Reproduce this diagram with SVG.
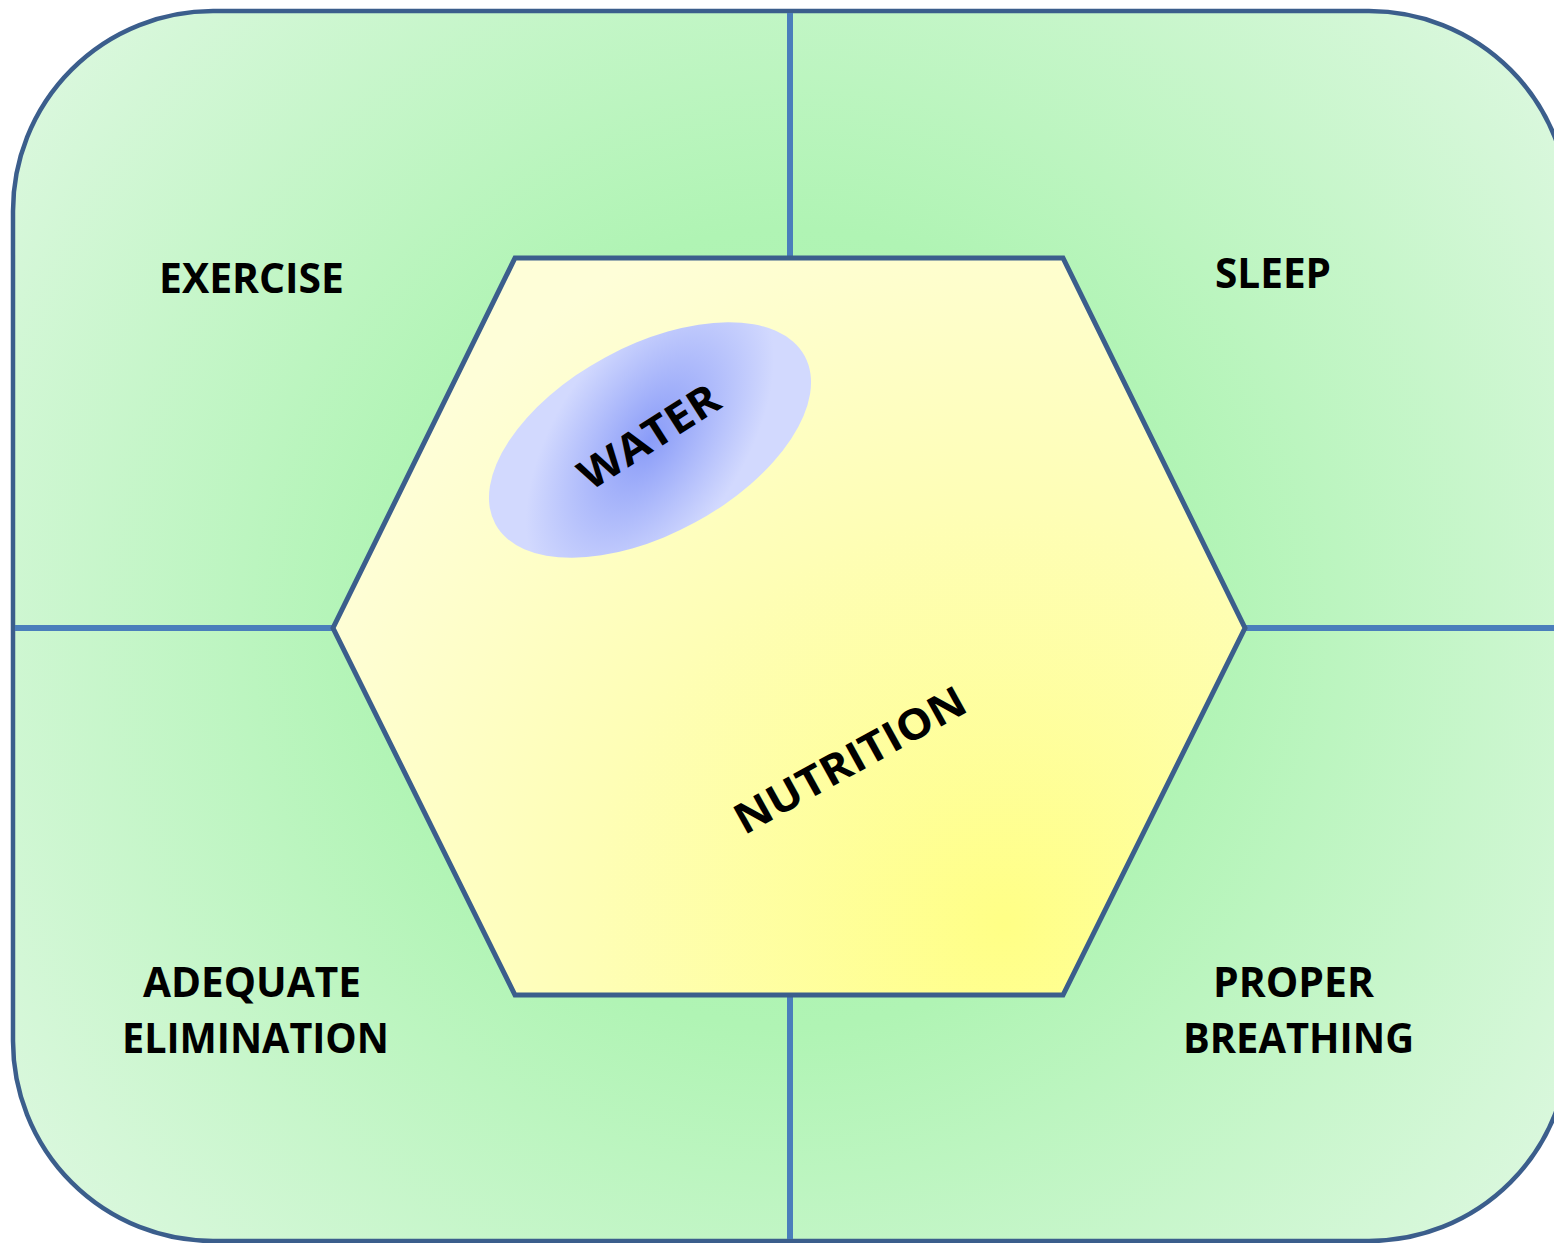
<svg xmlns="http://www.w3.org/2000/svg" width="1554" height="1243" viewBox="0 0 1554 1243">
  <defs>
    <radialGradient id="gGreen" gradientUnits="userSpaceOnUse" cx="790" cy="628" r="1000">
      <stop offset="0" stop-color="#a8f2ad"/>
      <stop offset="0.4" stop-color="#b0f4b4"/>
      <stop offset="1" stop-color="#e0f8e3"/>
    </radialGradient>
    <radialGradient id="gYellow" gradientUnits="userSpaceOnUse" cx="1005" cy="925" r="760">
      <stop offset="0" stop-color="#ffff86"/>
      <stop offset="0.55" stop-color="#fefeb6"/>
      <stop offset="1" stop-color="#fefed8"/>
    </radialGradient>
    <radialGradient id="gBlue" gradientUnits="userSpaceOnUse" cx="0" cy="0" r="1" gradientTransform="translate(650 440) rotate(-28.5) scale(176 94)">
      <stop offset="0" stop-color="#8a9cf8"/>
      <stop offset="1" stop-color="#d2d9fe"/>
    </radialGradient>
    <style>
      .lbl { font-family: "Open Sans", "Lato", "Liberation Sans", sans-serif; font-weight: bold; font-size: 42px; fill: #000; text-anchor: middle; }
      .div { stroke: #4a7ebb; stroke-width: 6; fill: none; }
    </style>
  </defs>

  <g id="background">
    <rect x="13" y="11" width="1556" height="1230" rx="200" ry="200" fill="url(#gGreen)" stroke="#3b5e8c" stroke-width="4.5"/>
  </g>

  <g id="connectors">
    <line class="div" x1="790" y1="13" x2="790" y2="258"/>
    <line class="div" x1="790" y1="995" x2="790" y2="1239"/>
    <line class="div" x1="15" y1="628" x2="333" y2="628"/>
    <line class="div" x1="1245" y1="628" x2="1554" y2="628"/>
  </g>

  <g id="nutrition">
    <polygon points="515,258 1063,258 1245,628 1063,995 515,995 333,628" fill="url(#gYellow)" stroke="#3b5e8c" stroke-width="5" stroke-linejoin="miter"/>
    <text class="lbl" transform="translate(857 773) rotate(-29)" x="0" y="0" textLength="258" lengthAdjust="spacingAndGlyphs">NUTRITION</text>
  </g>

  <g id="water">
    <ellipse cx="650" cy="440" rx="176" ry="94" transform="rotate(-28.5 650 440)" fill="url(#gBlue)"/>
    <text class="lbl" transform="translate(657 449) rotate(-32.5)" x="0" y="0" textLength="158" lengthAdjust="spacingAndGlyphs">WATER</text>
  </g>

  <g id="exercise">
    <text class="lbl" x="251.5" y="293" textLength="185" lengthAdjust="spacingAndGlyphs">EXERCISE</text>
  </g>

  <g id="sleep">
    <text class="lbl" x="1273" y="288" textLength="116" lengthAdjust="spacingAndGlyphs">SLEEP</text>
  </g>

  <g id="elimination">
    <text class="lbl" x="252" y="997" textLength="218" lengthAdjust="spacingAndGlyphs">ADEQUATE</text>
    <text class="lbl" x="255.5" y="1053" textLength="267" lengthAdjust="spacingAndGlyphs">ELIMINATION</text>
  </g>

  <g id="breathing">
    <text class="lbl" x="1293.5" y="997" textLength="161" lengthAdjust="spacingAndGlyphs">PROPER</text>
    <text class="lbl" x="1298.5" y="1053" textLength="231" lengthAdjust="spacingAndGlyphs">BREATHING</text>
  </g>
</svg>
